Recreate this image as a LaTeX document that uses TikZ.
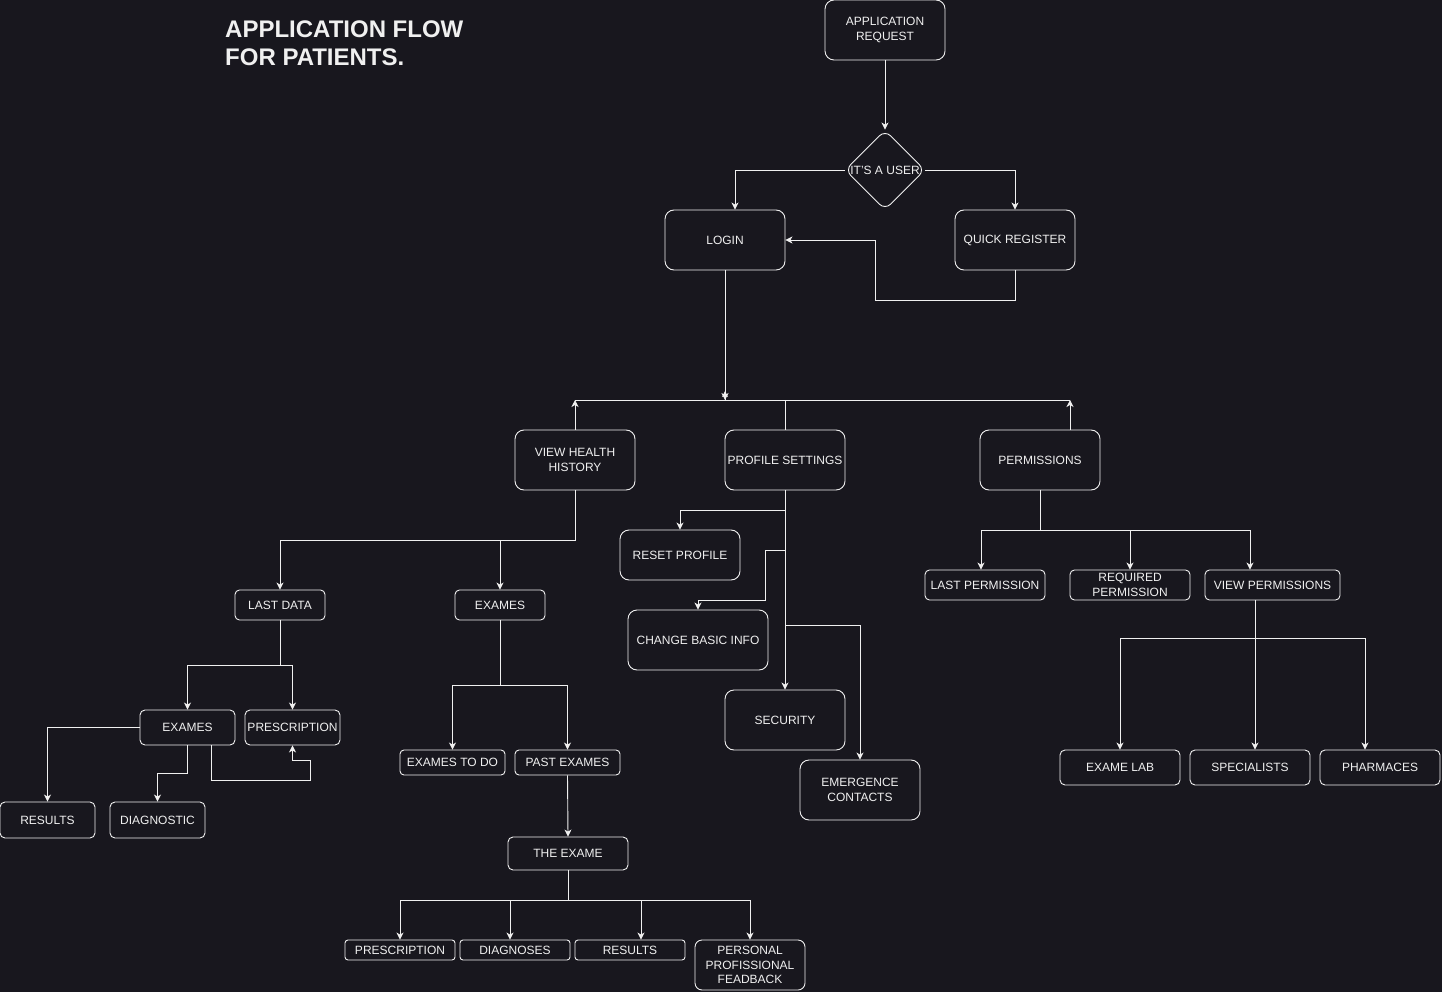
\documentclass[tikz,border=0pt]{standalone}
\usepackage{fontspec}
\setmainfont{Liberation Sans}
\usetikzlibrary{arrows.meta,shapes.geometric,calc}
\definecolor{bg}{RGB}{24,23,30}
\definecolor{fg}{RGB}{240,240,240}
\newcommand{\lab}{\fontsize{12}{14.5}\selectfont}
\tikzset{
  bx/.style={draw=fg, line width=0.9pt, text=fg, font=\lab, align=center, inner sep=0pt, rounded corners=#1},
  bx/.default=9pt,
  sz/.style 2 args={minimum width=#1pt, minimum height=#2pt},
  ln/.style={draw=fg, line width=0.9pt},
  ar/.style={ln, -{Stealth[length=7pt,width=7pt,inset=2pt]}},
}
\begin{document}
\begin{tikzpicture}[x=1pt,y=-1pt]
\fill[bg] (0,0) rectangle (1442,992);
\useasboundingbox (0,0) rectangle (1442,992);

\node[anchor=west, inner sep=0pt, text=fg, align=left, font=\bfseries\fontsize{24}{28}\selectfont] (title) at (225,43) {APPLICATION FLOW\\FOR PATIENTS.};

% top
\node[bx, sz={120}{60}] (appreq) at (885,30) {APPLICATION\\REQUEST};
\node[draw=fg, line width=0.9pt, diamond, aspect=1, minimum width=80pt, minimum height=80pt, inner sep=0pt, rounded corners=8pt,
      label={[text=fg, font=\lab, inner sep=0pt]center:IT'S A USER}] (user) at (885,170) {};
\node[bx, sz={120}{60}] (login) at (725,240) {LOGIN};
\node[bx, sz={120}{60}] (qr) at (1015,240) {QUICK REGISTER};

% level 2
\node[bx, sz={120}{60}] (vhh) at (575,460) {VIEW HEALTH\\HISTORY};
\node[bx, sz={120}{60}] (ps) at (785,460) {PROFILE SETTINGS};
\node[bx, sz={120}{60}] (perm) at (1040,460) {PERMISSIONS};

% health history
\node[bx=4.5pt, sz={90}{30}] (ld) at (280,605) {LAST DATA};
\node[bx=4.5pt, sz={90}{30}] (exm) at (500,605) {EXAMES};
\node[bx=5pt, sz={95}{35}] (ex1) at (187.5,727.5) {EXAMES};
\node[bx=5pt, sz={95}{35}] (pr1) at (292.5,727.5) {PRESCRIPTION};
\node[bx=5pt, sz={95}{36}] (res1) at (47.5,820) {RESULTS};
\node[bx=5pt, sz={95}{36}] (diag1) at (157.5,820) {DIAGNOSTIC};
\node[bx=4pt, sz={105}{25}] (etd) at (452.5,762.5) {EXAMES TO DO};
\node[bx=4pt, sz={105}{25}] (pe) at (567.5,762.5) {PAST EXAMES};
\node[bx=5pt, sz={120}{33}] (te) at (568,853.5) {THE EXAME};
\node[bx=3pt, sz={110}{20}] (bp) at (400,950) {PRESCRIPTION};
\node[bx=3pt, sz={110}{20}] (bd) at (515,950) {DIAGNOSES};
\node[bx=3pt, sz={110}{20}] (br) at (630,950) {RESULTS};
\node[bx=7pt, sz={110}{50}] (bf) at (750,965) {PERSONAL\\PROFISSIONAL\\FEADBACK};

% profile settings
\node[bx, sz={120}{50}] (rp) at (680,555) {RESET PROFILE};
\node[bx, sz={140}{60}] (cbi) at (698,640) {CHANGE BASIC INFO};
\node[bx, sz={120}{60}] (sec) at (785,720) {SECURITY};
\node[bx, sz={120}{60}] (ec) at (860,790) {EMERGENCE\\CONTACTS};

% permissions
\node[bx=4.5pt, sz={120}{30}] (lp) at (985,585) {LAST PERMISSION};
\node[bx=4.5pt, sz={120}{30}] (rq) at (1130,585) {REQUIRED\\PERMISSION};
\node[bx=4.5pt, sz={135}{30}] (vp) at (1272.5,585) {VIEW PERMISSIONS};
\node[bx=5pt, sz={120}{35}] (el) at (1120,767.5) {EXAME LAB};
\node[bx=5pt, sz={120}{35}] (sp) at (1250,767.5) {SPECIALISTS};
\node[bx=5pt, sz={120}{35}] (ph) at (1380,767.5) {PHARMACES};

% connectors top
\draw[ar] (appreq) -- (user);
\draw[ar] (user.west) -| ([xshift=10pt]login.north);
\draw[ar] (user.east) -| (qr.north);
\draw[ar] (qr.south) -- ++(0,30) -- ++(-140,0) |- (login.east);

% junction
\coordinate (j) at (725,400);
\coordinate (pt) at ([xshift=30pt]perm.north);
\draw[ar] (login) -- (j);
\draw[ln, -{Stealth[length=6pt,width=6pt,inset=2pt]}] (j) -- ([yshift=9pt]j);
\draw[ln] (vhh.north |- j) -- (pt |- j);
\draw[ar] (vhh.north) -- (vhh.north |- j);
\draw[ar] (pt) -- (pt |- j);
\draw[ln] (ps.north) -- (ps.north |- j);

% health history
\draw[ar] (vhh.south) -- ++(0,50) -| (ld.north);
\draw[ar] (vhh.south) -- ++(0,50) -| (exm.north);
\draw[ar] (ld.south) -- ++(0,45) -| (ex1.north);
\draw[ar] (ld.south) -- ++(0,45) -| (pr1.north);
\draw[ar] (ex1.west) -| (res1.north);
\draw[ar] (ex1.south) -- ++(0,28) -| (diag1.north);
\draw[ar] ([xshift=23.5pt]ex1.south) -- ++(0,35) -- ++(99,0) -- ++(0,-20) -| (pr1.south);
\draw[ar] (exm.south) -- ++(0,65) -| (etd.north);
\draw[ar] (exm.south) -- ++(0,65) -| (pe.north);
\draw[ar] (pe.south) -- (te.north);
\draw[ar] (te.south) -- ++(0,30) -| (bp.north);
\draw[ar] (te.south) -- ++(0,30) -| ([xshift=-5pt]bd.north);
\draw[ar] (te.south) -- ++(0,30) -| ([xshift=11pt]br.north);
\draw[ar] (te.south) -- ++(0,30) -| (bf.north);

% profile settings
\draw[ar] (ps.south) -- (sec.north);
\draw[ar] (ps.south) -- ++(0,20) -| (rp.north);
\draw[ar] (ps.south) -- ++(0,60) -- ++(-20,0) -- ++(0,50) -| (cbi.north);
\draw[ar] (ps.south) -- ++(0,135) -| (ec.north);

% permissions
\draw[ar] (perm.south) -- ++(0,40) -| ([xshift=-4pt]lp.north);
\draw[ar] (perm.south) -- ++(0,40) -| (rq.north);
\draw[ar] (perm.south) -- ++(0,40) -| ([xshift=-22.5pt]vp.north);
\coordinate (vps) at ([xshift=-17.5pt]vp.south);
\draw[ar] (vps) -- (vps |- sp.north);
\draw[ar] (vps) -- ++(0,38) -| (el.north);
\draw[ar] (vps) -- ++(0,38) -| ([xshift=-15pt]ph.north);
\end{tikzpicture}
\end{document}
